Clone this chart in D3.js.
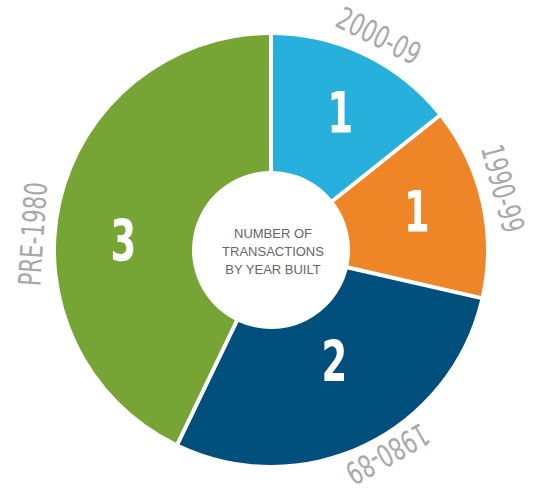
<!DOCTYPE html>
<html>
<head>
<meta charset="utf-8">
<script src="https://cdn.jsdelivr.net/npm/d3@7"></script>
<style>
  html, body { margin: 0; padding: 0; background: #fff; }
</style>
</head>
<body>
<svg id="chart" width="536" height="492"></svg>
<script>
// data
const periods = ["2000-09", "1990-99", "1980-89", "PRE-1980"];
const counts = [1, 1, 2, 3];
const sliceColors = ["#27b0db", "#ee8526", "#014f7c", "#76a536"];
const centerLines = ["NUMBER OF", "TRANSACTIONS", "BY YEAR BUILT"];

// layout
const cx = 271, cy = 250;
const outerR = 215, innerR = 79;
const labelR = [240, 240, 235, 239];
const valueR = [154, 151, 128, 148];
const labelNudge = [1, -2, -4, -9]; // degrees, designer placed labels a bit off centre
const condensed = "'DejaVu Sans Condensed', 'DejaVu Sans', sans-serif";

const svg = d3.select("#chart");
const g = svg.append("g").attr("transform", "translate(" + cx + "," + cy + ")");

const pie = d3.pie().sort(null).value(d => d);
const arcs = pie(counts);

const arc = d3.arc()
  .innerRadius(innerR)
  .outerRadius(outerR)
  .padAngle(4 / outerR)
  .padRadius(outerR);

g.append("g")
  .attr("class", "slices")
  .selectAll("path")
  .data(arcs)
  .enter()
  .append("path")
  .attr("d", arc)
  .style("fill", (d, i) => sliceColors[i]);

const midDeg = (d, i) => (d.startAngle + d.endAngle) / 2 * 180 / Math.PI + labelNudge[i];
const polar = (deg, r) => {
  const a = deg * Math.PI / 180;
  return [r * Math.sin(a), -r * Math.cos(a)];
};

// values inside the ring
g.append("g")
  .attr("class", "values")
  .selectAll("text")
  .data(arcs)
  .enter()
  .append("text")
  .attr("transform", (d, i) => {
    const p = polar(midDeg(d, i), valueR[i]);
    return "translate(" + p[0] + "," + p[1] + ") scale(0.72,1)";
  })
  .attr("text-anchor", "middle")
  .attr("dy", "0.36em")
  .text(d => d.data)
  .style("fill", "#fff")
  .style("font-family", condensed)
  .style("font-weight", "bold")
  .style("font-size", "57px");

// period labels round the outside
g.append("g")
  .attr("class", "labels")
  .selectAll("text")
  .data(arcs)
  .enter()
  .append("text")
  .attr("transform", (d, i) => {
    const deg = midDeg(d, i);
    const p = polar(deg, labelR[i]);
    return "translate(" + p[0] + "," + p[1] + ") rotate(" + deg + ") scale(0.77,1)";
  })
  .attr("text-anchor", "middle")
  .attr("dy", "0.36em")
  .text((d, i) => periods[i])
  .style("fill", "#a7a9ac")
  .style("font-family", condensed)
  .style("font-size", "31px");

// centre caption
g.append("text")
  .attr("text-anchor", "middle")
  .style("fill", "#666")
  .style("font-family", "'Liberation Sans', Arial, sans-serif")
  .style("font-size", "13px")
  .selectAll("tspan")
  .data(centerLines)
  .enter()
  .append("tspan")
  .attr("x", 2)
  .attr("y", (d, i) => -17 + i * 18)
  .attr("dy", "0.36em")
  .text(d => d);
</script>
</body>
</html>
